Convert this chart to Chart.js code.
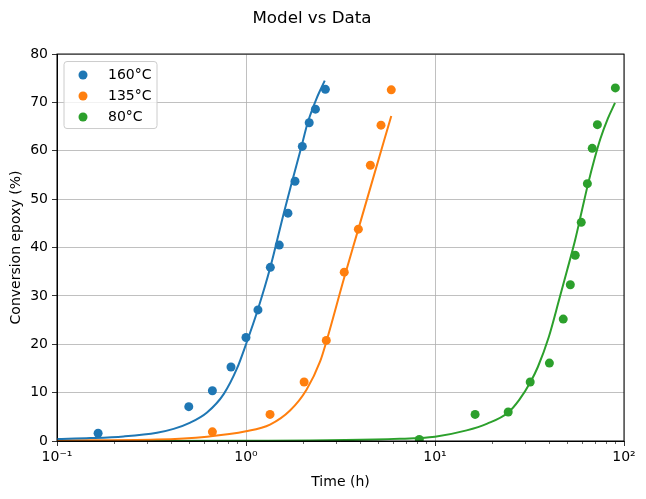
<!DOCTYPE html>
<html>
<head>
<meta charset="utf-8">
<script src="https://cdn.jsdelivr.net/npm/chart.js@4"></script>
<style>
  body { margin: 0; background: #fff; }
  #wrap { width: 646px; height: 499px; }
</style>
</head>
<body>
<div id="wrap"><canvas id="grafico"></canvas></div>
<script>
// measured data points (time in h, conversion in %)
const time160 = [0.165, 0.498, 0.664, 0.833, 1.0, 1.157, 1.345, 1.5, 1.667, 1.817, 1.986, 2.16, 2.33, 2.63];
const conv160 = [1.6, 7.1, 10.4, 15.3, 21.4, 27.1, 35.9, 40.5, 47.1, 53.7, 60.9, 65.8, 68.6, 72.7];

const time135 = [0.664, 1.34, 2.03, 2.66, 3.31, 3.93, 4.55, 5.18, 5.87];
const conv135 = [1.9, 5.5, 12.2, 20.8, 34.9, 43.8, 57.0, 65.3, 72.6];

const time80 = [8.26, 16.3, 24.4, 31.9, 40.3, 47.7, 52.0, 55.2, 59.4, 64.0, 67.9, 72.3, 90.0];
const conv80 = [0.3, 5.5, 6.0, 12.2, 16.1, 25.2, 32.3, 38.4, 45.2, 53.2, 60.5, 65.4, 73.0];

// model curves
const modelTime160 = [0.1, 0.15, 0.225, 0.338, 0.414, 0.507, 0.622, 0.762, 0.896, 1.0, 1.158, 1.345, 1.582, 1.752, 1.963, 2.12, 2.35, 2.61];
const modelConv160 = [0.4, 0.6, 0.95, 1.7, 2.5, 3.8, 5.9, 9.7, 15.0, 20.0, 27.3, 35.9, 47.0, 53.6, 60.8, 65.8, 70.6, 74.5];

const modelTime135 = [0.1, 0.338, 0.622, 1.0, 1.34, 1.71, 2.09, 2.47, 2.66, 3.31, 3.93, 4.6, 5.87];
const modelConv135 = [0.1, 0.3, 0.9, 2.0, 3.4, 6.3, 10.6, 16.5, 20.5, 33.8, 43.8, 53.0, 67.2];

const modelTime80 = [0.1, 1.0, 6.5, 10.0, 14.7, 18.9, 24.4, 27.9, 31.9, 35, 40, 45.5, 50, 55.1, 60, 64.3, 70, 75, 82, 89.6];
const modelConv80 = [0.0, 0.05, 0.45, 0.9, 2.2, 3.6, 5.9, 8.5, 12.1, 15.3, 21.5, 29.4, 35.3, 41.5, 47.8, 52.9, 58.5, 62.5, 66.6, 69.9];

const labels = ["160°C", "135°C", "80°C"];
const colores = ["#1f77b4", "#ff7f0e", "#2ca02c"];

const decades = [0.1, 1, 10, 100];
const decadeLabels = ["10⁻¹", "10⁰", "10¹", "10²"];

function puntos(xs, ys) {
    return xs.map((x, i) => ({ x: x, y: ys[i] }));
}

function esDecada(v) {
    return decades.some(d => Math.abs(v - d) < d * 1e-6);
}

// all log tick positions between 0.1 and 100
const xTicks = [];
[0.1, 1, 10].forEach(d => {
    for (let k = 1; k < 10; k++) xTicks.push(d * k);
});
xTicks.push(100);

Chart.defaults.font.family = "'DejaVu Sans', sans-serif";
Chart.defaults.color = "#000";

const marcoPlugin = {
    id: "marco",
    afterDraw(chart) {
        const { ctx, chartArea: a } = chart;
        const xs = chart.scales.x;
        ctx.save();
        // minor ticks
        ctx.strokeStyle = "#000";
        ctx.lineWidth = 0.6;
        xTicks.forEach(v => {
            if (esDecada(v)) return;
            const px = Math.round(xs.getPixelForValue(v)) + 0.5;
            ctx.beginPath();
            ctx.moveTo(px, a.bottom);
            ctx.lineTo(px, a.bottom + 3);
            ctx.stroke();
        });
        // frame
        ctx.lineWidth = 1;
        ctx.strokeRect(a.left, a.top, a.right - a.left, a.bottom - a.top);

        // legend
        const lx = a.left + 7, ly = a.top + 7.5, lw = 93, lh = 67;
        ctx.beginPath();
        ctx.roundRect(lx, ly, lw, lh, 3);
        ctx.fillStyle = "rgba(255,255,255,0.8)";
        ctx.fill();
        ctx.strokeStyle = "#cccccc";
        ctx.stroke();
        ctx.font = "14px 'DejaVu Sans'";
        ctx.textBaseline = "middle";
        ctx.textAlign = "left";
        chart.data.datasets.filter(d => d.label).forEach((d, i) => {
            const cy = ly + 13.5 + i * 21;
            ctx.beginPath();
            ctx.arc(lx + 19, cy, 4.5, 0, Math.PI * 2);
            ctx.fillStyle = d.backgroundColor;
            ctx.fill();
            ctx.fillStyle = "#000";
            ctx.fillText(d.label, lx + 44, cy);
        });
        ctx.restore();
    }
};

const modelos = [
    puntos(modelTime160, modelConv160),
    puntos(modelTime135, modelConv135),
    puntos(modelTime80, modelConv80)
];
const medidas = [
    puntos(time160, conv160),
    puntos(time135, conv135),
    puntos(time80, conv80)
];

const datasets = [];
modelos.forEach((m, i) => {
    datasets.push({
        type: "line",
        label: "",
        data: m,
        borderColor: colores[i],
        borderWidth: 2,
        pointRadius: 0,
        fill: false,
        cubicInterpolationMode: "monotone"
    });
});
medidas.forEach((m, i) => {
    datasets.push({
        type: "scatter",
        label: labels[i],
        data: m,
        backgroundColor: colores[i],
        borderWidth: 0,
        pointRadius: 4.5,
        pointHoverRadius: 4.5
    });
});

new Chart(document.getElementById("grafico").getContext("2d"), {
    data: { datasets: datasets },
    options: {
        responsive: true,
        maintainAspectRatio: false,
        animation: false,
        layout: { padding: { left: 0, right: 22, top: 0, bottom: 0 } },
        plugins: {
            legend: { display: false },
            tooltip: { enabled: false },
            title: {
                display: true,
                text: "Model vs Data",
                font: { size: 16.7, weight: "normal" },
                color: "#000",
                padding: { top: 9, bottom: 25 }
            }
        },
        scales: {
            x: {
                type: "logarithmic",
                min: 0.1,
                max: 100,
                afterFit(scale) { scale.height = 58; },
                afterBuildTicks(scale) {
                    scale.ticks = xTicks.map(v => ({ value: v }));
                },
                ticks: {
                    autoSkip: false,
                    maxRotation: 0,
                    padding: 3,
                    font: { size: 14 },
                    callback(value) {
                        const i = decades.findIndex(d => Math.abs(value - d) < d * 1e-6);
                        return i >= 0 ? decadeLabels[i] : "";
                    }
                },
                grid: {
                    color: ctx => (ctx.tick && esDecada(ctx.tick.value)) ? "#b0b0b0" : "rgba(0,0,0,0)",
                    tickColor: ctx => (ctx.tick && esDecada(ctx.tick.value)) ? "#000" : "rgba(0,0,0,0)",
                    lineWidth: 0.8,
                    tickLength: 5
                },
                border: { color: "#000", width: 1 },
                title: {
                    display: true,
                    text: "Time (h)",
                    font: { size: 14 },
                    padding: { top: 4, bottom: 8 }
                }
            },
            y: {
                min: 0,
                max: 80,
                afterFit(scale) { scale.width = 57; },
                ticks: { stepSize: 10, padding: 4, font: { size: 14 } },
                grid: { color: "#b0b0b0", tickColor: "#000", lineWidth: 0.8, tickLength: 5 },
                border: { color: "#000", width: 1 },
                title: {
                    display: true,
                    text: "Conversion epoxy (%)",
                    font: { size: 14 },
                    padding: { top: 8, bottom: 0 }
                }
            }
        }
    },
    plugins: [marcoPlugin]
});
</script>
</body>
</html>
